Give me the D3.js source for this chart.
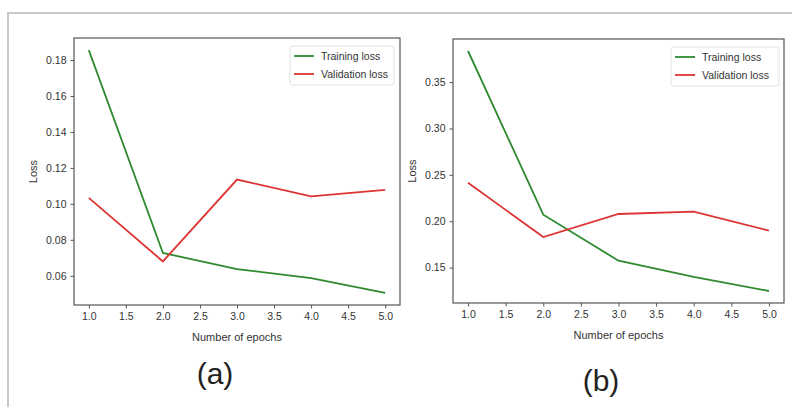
<!DOCTYPE html>
<html>
<head>
<meta charset="utf-8">
<script src="https://cdn.jsdelivr.net/npm/d3@7"></script>
<style>
  body { margin: 0; background: #fff; }
  text { font-family: "Liberation Sans", Arial, sans-serif; fill: #333; }
  .axis path, .axis line { stroke: #555; }
  .axis text { font-size: 10.5px; fill: #333; }
</style>
</head>
<body>
<div id="chart"></div>
<script>
// epochs on the x axis
var epochs = [1, 2, 3, 4, 5];

// panel (a)
var trainA = [0.1855, 0.0727, 0.0637, 0.0587, 0.0505];
var valA   = [0.1033, 0.0680, 0.1135, 0.1042, 0.1078];
var yTicksA = [0.06, 0.08, 0.10, 0.12, 0.14, 0.16, 0.18];

// panel (b)
var trainB = [0.3835, 0.2070, 0.1575, 0.1400, 0.1248];
var valB   = [0.2415, 0.1830, 0.2078, 0.2103, 0.1898];
var yTicksB = [0.15, 0.20, 0.25, 0.30, 0.35];

var xTicks = [1.0, 1.5, 2.0, 2.5, 3.0, 3.5, 4.0, 4.5, 5.0];
var seriesNames = ["Training loss", "Validation loss"];
var seriesColors = ["#2f8a2f", "#dd3333"];
var panelLabels = ["(a)", "(b)"];

var W = 793, H = 407;
var svg = d3.select("#chart").append("svg")
  .attr("width", W)
  .attr("height", H);

// light grey frame around the figure
svg.append("line").attr("x1", 8).attr("x2", 792).attr("y1", 13).attr("y2", 13)
  .attr("stroke", "#c8c8c8").attr("stroke-width", 2);
svg.append("line").attr("x1", 8).attr("x2", 8).attr("y1", 12).attr("y2", H)
  .attr("stroke", "#c8c8c8").attr("stroke-width", 2);

function drawPanel(opt) {
  var x = d3.scaleLinear().domain([0.8, 5.2]).range([opt.left, opt.right]);
  var lo = d3.min(opt.train.concat(opt.val)), hi = d3.max(opt.train.concat(opt.val));
  var pad = (hi - lo) * 0.05;
  var y = d3.scaleLinear().domain([lo - pad, hi + pad]).range([opt.bottom, opt.top]);

  var g = svg.append("g");

  // Add the X Axis
  g.append("g")
    .attr("class", "axis")
    .attr("transform", "translate(0," + opt.bottom + ")")
    .call(d3.axisBottom(x).tickValues(xTicks).tickSize(3.5).tickPadding(4)
      .tickFormat(d3.format(".1f")));

  // Add the Y Axis
  g.append("g")
    .attr("class", "axis")
    .attr("transform", "translate(" + opt.left + ",0)")
    .call(d3.axisLeft(y).tickValues(opt.yTicks).tickSize(3.5).tickPadding(4)
      .tickFormat(d3.format(opt.fmt)));

  g.selectAll(".axis .domain").remove();

  // plot frame
  g.append("rect")
    .attr("x", opt.left).attr("y", opt.top)
    .attr("width", opt.right - opt.left).attr("height", opt.bottom - opt.top)
    .attr("fill", "none").attr("stroke", "#555").attr("stroke-width", 1.2);

  var line = d3.line()
    .x(function(d, i) { return x(epochs[i]); })
    .y(function(d) { return y(d); });

  [opt.train, opt.val].forEach(function(s, i) {
    g.append("path")
      .attr("d", line(s))
      .attr("fill", "none")
      .attr("stroke", seriesColors[i])
      .attr("stroke-width", 1.8);
  });

  // axis titles
  g.append("text")
    .attr("x", (opt.left + opt.right) / 2)
    .attr("y", opt.bottom + 36)
    .attr("text-anchor", "middle")
    .style("font-size", "11px")
    .text("Number of epochs");
  g.append("text")
    .attr("transform", "translate(" + opt.ylabX + "," + ((opt.top + opt.bottom) / 2) + ") rotate(-90)")
    .attr("text-anchor", "middle")
    .style("font-size", "11px")
    .text("Loss");

  // legend
  var lg = g.append("g").attr("transform", "translate(" + opt.legX + "," + (opt.top + 8) + ")");
  lg.append("rect")
    .attr("width", opt.legW).attr("height", 39).attr("rx", 2)
    .attr("fill", "#fff").attr("stroke", "#e2e2e2");
  seriesNames.forEach(function(n, i) {
    lg.append("line")
      .attr("x1", 4).attr("x2", 24)
      .attr("y1", 10 + i * 18).attr("y2", 10 + i * 18)
      .attr("stroke", seriesColors[i]).attr("stroke-width", 1.8);
    lg.append("text")
      .attr("x", 31).attr("y", 10 + i * 18)
      .attr("dy", "0.35em")
      .style("font-size", "10.5px")
      .text(n);
  });

  // panel label
  g.append("text")
    .attr("x", opt.labX).attr("y", opt.labY)
    .attr("text-anchor", "middle")
    .style("font-size", "30px")
    .style("fill", "#222")
    .text(opt.label);
}

drawPanel({left: 74, right: 400, top: 38, bottom: 305,
  train: trainA, val: valA, yTicks: yTicksA, fmt: ".2f",
  ylabX: 37, legX: 290, legW: 104, label: panelLabels[0], labX: 215, labY: 384});

drawPanel({left: 453, right: 784, top: 39, bottom: 303,
  train: trainB, val: valB, yTicks: yTicksB, fmt: ".2f",
  ylabX: 416, legX: 671, legW: 108, label: panelLabels[1], labX: 601, labY: 391});
</script>
</body>
</html>
